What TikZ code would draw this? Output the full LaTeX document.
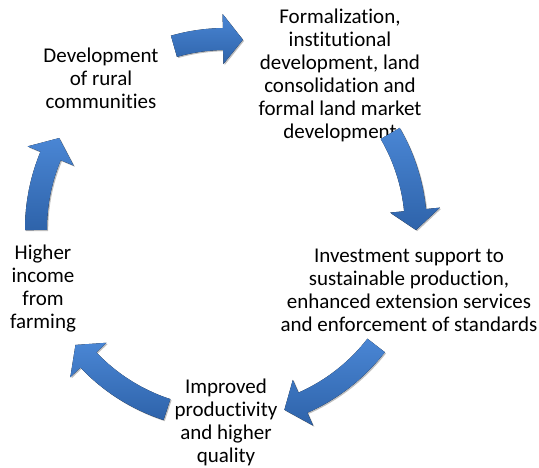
\documentclass[tikz,border=0pt]{standalone}
\usepackage{fontspec}
\setmainfont{Carlito}[Ligatures=NoCommon]
\usetikzlibrary{shadows}
\definecolor{arrowlight}{RGB}{74,134,212}
\definecolor{arrowdark}{RGB}{46,99,170}
\newcommand{\cycarrow}[2]{%
  \pgfmathsetmacro{\hb}{#2+6}%
  \fill[cyc] (#1:201) arc[start angle=#1,end angle=\hb,radius=201] -- (\hb:215) -- (#2:190) -- (\hb:165) -- (\hb:179) arc[start angle=\hb,end angle=#1,radius=179] -- cycle;%
}
\begin{document}
\begin{tikzpicture}[x=1pt,y=1pt,
  lbl/.style={align=center,inner sep=0pt,font=\fontsize{21}{23}\selectfont},
  cyc/.style={top color=arrowlight,bottom color=arrowdark,draw=none,
    drop shadow={shadow xshift=1.2pt,shadow yshift=-1.2pt,opacity=0.25,fill=black}}]
\useasboundingbox (0,0) rectangle (539,468);
\node[lbl] (dev) at (101,390) {Development\\of rural\\communities};
\node[lbl] (form) at (340,393) {Formalization,\\institutional\\development, land\\consolidation and\\formal land market\\development};
\node[lbl] (inv) at (409,178) {Investment support to\\sustainable production,\\enhanced extension services\\and enforcement of standards};
\node[lbl] (imp) at (226,46) {Improved\\productivity\\and higher\\quality};
\node[lbl] (inc) at (43,179) {Higher\\income\\from\\farming};
\begin{scope}[shift={(226,239)}]
  \cycarrow{105.9}{84.9}
  \cycarrow{30.2}{-0.3}
  \cycarrow{-37.8}{-72.1}
  \cycarrow{-108.1}{-142.4}
  \cycarrow{180.3}{151.4}
\end{scope}
\end{tikzpicture}
\end{document}
